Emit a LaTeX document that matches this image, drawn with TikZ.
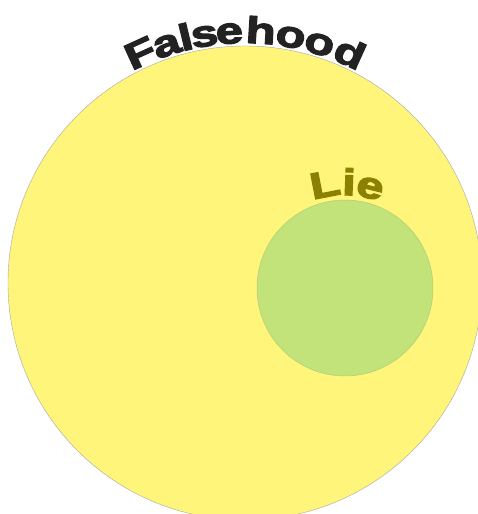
\documentclass[tikz,border=0pt]{standalone}
\usepackage{fontspec}
\newfontfamily\heavy{Liberation Sans Bold}[FakeBold=3.5,FakeStretch=1.33]
\definecolor{bigyellow}{RGB}{255,245,122}
\definecolor{smallgreen}{RGB}{194,226,122}
\definecolor{lieolive}{RGB}{140,128,0}
\definecolor{darktext}{RGB}{34,34,34}
\tikzset{
  setcircle/.style={circle, inner sep=0pt, line width=0.4pt},
  arcletter/.style={font=\heavy\fontsize{37}{37}\selectfont, anchor=base, inner sep=0pt}
}
\begin{document}
\begin{tikzpicture}[x=1pt,y=-1pt]
\useasboundingbox (0,0) rectangle (478,514);
\clip (0,0) rectangle (478,514);
\fill[white] (0,0) rectangle (478,514);
\node[setcircle, draw=gray!70, fill=bigyellow, minimum size=474pt] (big) at (245,283) {};
\node[setcircle, draw=smallgreen!85!black!90, fill=smallgreen, minimum size=176pt] (small) at (345,288) {};
\foreach \ch/\a [count=\i] in {F/-24.5, a/-18.2, l/-13.6, s/-9.3, e/-3.6, h/3.6, o/10.5, o/17.3, d/24.5}
  \node[arcletter, text=darktext, rotate=-\a] (f\i) at ({245+240*sin(\a)},{283-240*cos(\a)}) {\ch};
\foreach \ch/\a [count=\i] in {L/-11, i/2.2, e/14}
  \node[arcletter, text=lieolive, rotate=-\a] (l\i) at ({345+93*sin(\a)},{288-93*cos(\a)}) {\ch};
\end{tikzpicture}
\end{document}
